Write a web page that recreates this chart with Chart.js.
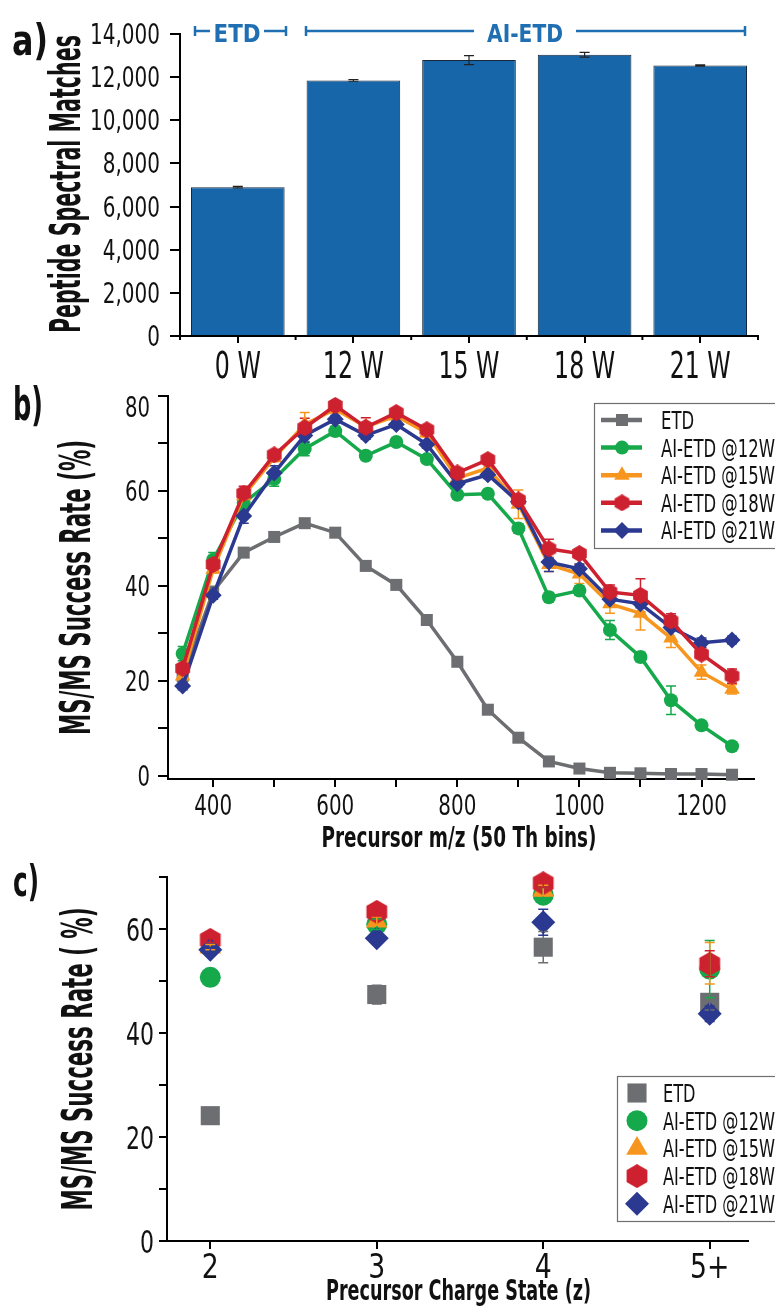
<!DOCTYPE html>
<html><head><meta charset="utf-8">
<script src="https://cdn.jsdelivr.net/npm/chart.js@4.4.1/dist/chart.umd.min.js"></script>
<style>
html,body{margin:0;padding:0;background:#fff;}
#wrap{position:relative;width:775px;height:1309px;overflow:hidden;background:#fff;}
canvas{position:absolute;left:0;}
</style></head><body>
<div id="wrap">
<canvas id="ca" width="775" height="400" style="top:0px"></canvas>
<canvas id="cb" width="775" height="500" style="top:360px"></canvas>
<canvas id="cc" width="775" height="459" style="top:850px"></canvas>
</div>
<script>
// ---------- Panel a data ----------
const powerLabels = ['0 W', '12 W', '15 W', '18 W', '21 W'];
const psmValues = [6900, 11850, 12790, 13040, 12540];
const psmErrors = [40, 40, 210, 110, 30];
const psmTicks = [0, 2000, 4000, 6000, 8000, 10000, 12000, 14000];

// ---------- Panel b data ----------
const mzBins = [350, 400, 450, 500, 550, 600, 650, 700, 750, 800, 850, 900, 950, 1000, 1050, 1100, 1150, 1200, 1250];
const mzTickLabels = [400, 600, 800, 1000, 1200];
const rateETD = [21, 38.8, 47.0, 50.3, 53.2, 51.2, 44.2, 40.2, 32.8, 24.0, 13.9, 8.0, 3.0, 1.5, 0.6, 0.5, 0.35, 0.35, 0.2];
const rate12W = [25.7, 45.5, 57.5, 62.5, 68.9, 72.6, 67.4, 70.3, 66.7, 59.2, 59.4, 52.1, 37.6, 39.0, 30.7, 25.0, 15.9, 10.6, 6.2];
const rate15W = [21.0, 43.5, 59.0, 67.0, 74.0, 77.2, 73.5, 75.8, 72.2, 62.7, 64.8, 57.2, 44.5, 42.5, 36.2, 34.2, 29.0, 21.8, 18.2];
const rate18W = [22.6, 44.5, 59.5, 67.6, 73.3, 78.0, 73.4, 76.5, 72.9, 63.8, 66.6, 58.1, 47.8, 46.8, 38.7, 38.0, 32.6, 25.6, 21.0];
const rate21W = [18.9, 38.0, 54.7, 63.8, 71.7, 75.1, 71.7, 74.0, 69.8, 61.5, 63.4, 57.7, 45.0, 43.6, 37.2, 36.2, 31.2, 28.0, 28.6];
const errETD = [0.3, 0.3, 0.3, 0.3, 0.3, 0.3, 0.3, 0.3, 0.3, 0.3, 0.3, 0.3, 0.3, 0.3, 0.3, 0.3, 0.3, 0.3, 0.3];
const err12W = [1.5, 1.5, 1.2, 1.5, 1.5, 1, 0.8, 0.8, 0.8, 0.8, 0.8, 1, 1, 1, 2, 1, 3, 0.8, 0.8];
const err15W = [0.8, 0.8, 1, 0.8, 2.5, 0.8, 0.8, 0.8, 0.8, 0.8, 0.8, 3, 1.5, 2, 2, 3.5, 2, 1.5, 1];
const err18W = [0.8, 0.8, 1.5, 0.8, 2, 0.8, 2, 0.8, 0.8, 0.8, 0.8, 0.8, 2, 0.8, 1.5, 3.5, 1.5, 0.8, 1.5];
const err21W = [0.8, 0.8, 1.5, 1.5, 1.5, 0.8, 0.8, 0.8, 0.8, 0.8, 0.8, 0.8, 2, 1, 0.8, 0.8, 2.5, 1, 0.8];

// ---------- Panel c data ----------
const chargeStates = [2, 3, 4, 5];
const chargeLabels = ['2', '3', '4', '5+'];
const zETD = [24.1, 47.4, 56.5, 45.9];
const z12W = [50.7, 60.9, 66.5, 52.3];
const z15W = [56.5, 61.5, 67.4, 53.4];
const z18W = [57.9, 63.3, 68.8, 53.3];
const z21W = [56.0, 58.2, 61.3, 43.7];
const zErrETD = [0.3, 1.8, 3.0, 1.5];
const zErr12W = [0.5, 1.0, 1.5, 5.5];
const zErr15W = [0.5, 0.8, 1.0, 4.0];
const zErr18W = [0.5, 0.8, 0.8, 2.5];
const zErr21W = [0.5, 0.8, 2.5, 1.5];

const seriesNames = ['ETD', 'AI-ETD @12W', 'AI-ETD @15W', 'AI-ETD @18W', 'AI-ETD @21W'];

// ---------- styling ----------
const FF = "'Liberation Sans Narrow','DejaVu Sans Condensed','Arial Narrow','Liberation Sans',sans-serif";
const C_BAR = '#1766a9', C_BRACKET = '#1f6fb2';
const C_GRAY = '#6d6e71', C_GREEN = '#16a94b', C_ORANGE = '#f7961f', C_RED = '#cd2130', C_BLUE = '#2b3991';
const INK = '#111';

Chart.defaults.font.family = FF;
Chart.defaults.color = INK;
Chart.defaults.animation = false;

function hexCanvas(d, color) {
  const c = document.createElement('canvas');
  c.width = d; c.height = d;
  const g = c.getContext('2d');
  g.fillStyle = color;
  g.beginPath();
  const r = d / 2;
  for (let i = 0; i < 6; i++) {
    const a = -Math.PI / 2 + i * Math.PI / 3;
    const px = r + r * Math.cos(a), py = r + r * Math.sin(a);
    if (i === 0) g.moveTo(px, py); else g.lineTo(px, py);
  }
  g.closePath();
  g.fill();
  return c;
}

function drawText(ctx, txt, x, y, o) {
  ctx.save();
  ctx.font = o.font;
  ctx.fillStyle = o.color || INK;
  ctx.textBaseline = o.baseline || 'alphabetic';
  ctx.translate(x, y);
  if (o.rotate) ctx.rotate(o.rotate);
  const m = ctx.measureText(txt).width;
  const sx = o.width ? o.width / m : (o.scale || 1);
  ctx.scale(sx, 1);
  ctx.textAlign = o.align || 'center';
  ctx.fillText(txt, 0, 0);
  ctx.restore();
}

function drawMarker(ctx, style, radius, x, y, color) {
  ctx.save();
  ctx.fillStyle = color; ctx.strokeStyle = color;
  if (Chart.helpers && Chart.helpers.drawPoint) {
    Chart.helpers.drawPoint(ctx, {pointStyle: style, radius: radius, rotation: 0, borderWidth: 0}, x, y);
  } else if (style instanceof HTMLCanvasElement) {
    ctx.drawImage(style, x - style.width / 2, y - style.height / 2);
  }
  ctx.restore();
}

// tick labels drawn from the library's own scale ticks, in a condensed face
function tickText(id, axes) {
  return {
    id: id,
    afterDraw(chart) {
      const ctx = chart.ctx;
      Object.keys(axes).forEach(key => {
        const o = axes[key], s = chart.scales[key];
        const font = o.size + 'px ' + FF;
        ctx.save();
        ctx.font = font;
        const sx = o.refWidth / ctx.measureText(o.ref).width;
        ctx.restore();
        s.ticks.forEach((t, i) => {
          const lab = t.label;
          if (lab === '' || lab === null || lab === undefined) return;
          const p = s.getPixelForTick(i);
          if (key === 'x') {
            drawText(ctx, String(lab), p, o.baseline, {font: font, scale: sx, align: 'center'});
          } else {
            let b = p + o.h / 2;
            if (o.clampTop) b = Math.max(b, s.top + o.h + 1);
            drawText(ctx, String(lab), o.right, b, {font: font, scale: sx, align: 'right'});
          }
        });
      });
    }
  };
}

const errorBars = {
  id: 'errorBars',
  beforeDatasetsDraw(chart, args, opts) { if (opts.behind) drawErr(chart, opts); },
  afterDatasetsDraw(chart, args, opts) { if (!opts.behind) drawErr(chart, opts); }
};
function drawErr(chart, opts) {
  const ctx = chart.ctx, ys = chart.scales.y;
  chart.data.datasets.forEach((ds, di) => {
    if (!ds.errors) return;
    const meta = chart.getDatasetMeta(di);
    ctx.save();
    ctx.strokeStyle = opts.color || ds.borderColor;
    ctx.lineWidth = opts.width || 1.5;
    meta.data.forEach((el, i) => {
      const e = ds.errors[i];
      if (!e) return;
      const raw = ds.data[i];
      const v = typeof raw === 'object' ? raw.y : raw;
      const x = el.x;
      const y1 = ys.getPixelForValue(v + e), y2 = ys.getPixelForValue(v - e);
      const c = opts.cap || 5;
      ctx.beginPath();
      ctx.moveTo(x, y1); ctx.lineTo(x, y2);
      ctx.moveTo(x - c, y1); ctx.lineTo(x + c, y1);
      ctx.moveTo(x - c, y2); ctx.lineTo(x + c, y2);
      ctx.stroke();
    });
    ctx.restore();
  });
}

function legendPlugin(id, box, rows, markerX, textX, textW, withLine, offsetTop) {
  return {
    id: id,
    afterDraw(chart) {
      const ctx = chart.ctx;
      const font = '25px ' + FF;
      ctx.save();
      ctx.strokeStyle = '#6f6f6f'; ctx.lineWidth = 1.2;
      ctx.strokeRect(box[0] + 0.5, box[1] - offsetTop + 0.5, box[2] - box[0], box[3] - box[1]);
      ctx.font = font;
      const sc = textW / ctx.measureText('AI-ETD @12W').width;
      chart.data.datasets.forEach((ds, i) => {
        const y = rows[0] + rows[1] * i - offsetTop;
        if (withLine) {
          ctx.strokeStyle = ds.borderColor; ctx.lineWidth = 4.5;
          ctx.beginPath(); ctx.moveTo(markerX - 21, y); ctx.lineTo(markerX + 20, y); ctx.stroke();
        }
        drawMarker(ctx, ds.pointStyle, ds.pointRadius, markerX, y, ds.pointBackgroundColor);
        drawText(ctx, ds.label, textX, y + 9, {font: font, align: 'left', scale: sc});
      });
      ctx.restore();
    }
  };
}

// ================= Panel a =================
const annotA = {
  id: 'annotA',
  afterDraw(chart) {
    const ctx = chart.ctx;
    drawText(ctx, 'a)', 12, 55, {font: 'bold 42px ' + FF, align: 'left', width: 36});
    drawText(ctx, 'Peptide Spectral Matches', 80, 184, {font: '600 43px ' + FF, width: 298, rotate: -Math.PI / 2});
    ctx.save();
    ctx.strokeStyle = C_BRACKET; ctx.lineWidth = 2.5;
    ctx.beginPath();
    ctx.moveTo(195, 31); ctx.lineTo(210, 31); ctx.moveTo(264, 31); ctx.lineTo(286, 31);
    ctx.moveTo(195, 26); ctx.lineTo(195, 36); ctx.moveTo(286, 26); ctx.lineTo(286, 36);
    ctx.moveTo(306, 31); ctx.lineTo(474, 31); ctx.moveTo(576, 31); ctx.lineTo(745, 31);
    ctx.moveTo(306, 26); ctx.lineTo(306, 36); ctx.moveTo(745, 26); ctx.lineTo(745, 36);
    ctx.stroke();
    ctx.restore();
    drawText(ctx, 'ETD', 237, 42, {font: 'bold 24px ' + FF, width: 47, color: C_BRACKET});
    drawText(ctx, 'AI-ETD', 525, 42, {font: 'bold 24px ' + FF, width: 76, color: C_BRACKET});
    const xs = chart.scales.x;
    ctx.save();
    ctx.strokeStyle = '#000'; ctx.lineWidth = 2;
    ctx.beginPath();
    for (let i = 0; i <= powerLabels.length; i++) {
      const x = xs.left + i * (xs.right - xs.left) / powerLabels.length;
      ctx.moveTo(x, xs.top); ctx.lineTo(x, xs.top + 4);
    }
    ctx.stroke();
    ctx.restore();
  }
};

new Chart(document.getElementById('ca'), {
  type: 'bar',
  data: {
    labels: powerLabels,
    datasets: [{
      data: psmValues, errors: psmErrors,
      backgroundColor: C_BAR, borderColor: '#16273a', borderWidth: 1,
      categoryPercentage: 1, barPercentage: 0.81
    }]
  },
  options: {
    responsive: false, animation: false, devicePixelRatio: 1,
    layout: {padding: {top: 34, right: 17, left: 0, bottom: 0}},
    plugins: {legend: {display: false}, tooltip: {enabled: false},
      errorBars: {behind: false, color: '#222', width: 1.2, cap: 5}},
    scales: {
      x: {
        offset: true, afterFit(s) { s.height = 64; },
        border: {color: '#000', width: 2},
        grid: {offset: false, drawOnChartArea: false, tickLength: 7, color: '#000', lineWidth: 2},
        ticks: {display: false, autoSkip: false}
      },
      y: {
        min: psmTicks[0], max: psmTicks[psmTicks.length - 1],
        afterFit(s) { s.width = 180; },
        afterBuildTicks(s) { s.ticks = psmTicks.map(v => ({value: v})); },
        border: {color: '#000', width: 2},
        grid: {drawOnChartArea: false, tickLength: 10, color: '#000', lineWidth: 2},
        ticks: {display: false, callback: v => Number(v).toLocaleString('en-US')}
      }
    }
  },
  plugins: [errorBars, annotA, tickText('tA', {
    x: {size: 38, ref: '0 W', refWidth: 46, baseline: 378},
    y: {size: 28, ref: '10,000', refWidth: 70, right: 160, h: 20}
  })]
});

// ================= Panel b =================
const OFF_B = 360;
const hexB = hexCanvas(17, C_RED);
function lineDs(label, vals, errs, color, style, radius, order) {
  return {
    label: label, data: mzBins.map((x, i) => ({x: x, y: vals[i]})), errors: errs,
    borderColor: color, backgroundColor: color, borderWidth: 3.5, tension: 0,
    pointStyle: style, pointRadius: radius, pointBackgroundColor: color, pointBorderWidth: 0,
    order: order, clip: false
  };
}
const annotB = {
  id: 'annotB',
  afterDraw(chart) {
    const ctx = chart.ctx;
    drawText(ctx, 'b)', 13, 420 - OFF_B, {font: 'bold 46px ' + FF, align: 'left', width: 30});
    drawText(ctx, 'MS/MS Success Rate (%)', 90, 587.5 - OFF_B, {font: '600 43px ' + FF, width: 295, rotate: -Math.PI / 2});
    drawText(ctx, 'Precursor m/z (50 Th bins)', 459, 847 - OFF_B, {font: '600 28px ' + FF, width: 275});
  }
};
new Chart(document.getElementById('cb'), {
  type: 'line',
  data: {
    datasets: [
      lineDs(seriesNames[0], rateETD, errETD, C_GRAY, 'rect', 8.5, 5),
      lineDs(seriesNames[1], rate12W, err12W, C_GREEN, 'circle', 7, 4),
      lineDs(seriesNames[2], rate15W, err15W, C_ORANGE, 'triangle', 9, 3),
      lineDs(seriesNames[3], rate18W, err18W, C_RED, hexB, 8, 1),
      lineDs(seriesNames[4], rate21W, err21W, C_BLUE, 'rectRot', 8.5, 2)
    ]
  },
  options: {
    responsive: false, animation: false, devicePixelRatio: 1,
    layout: {padding: {top: 36, right: 21, left: 0, bottom: 0}},
    plugins: {legend: {display: false}, tooltip: {enabled: false},
      errorBars: {behind: true, width: 1.5, cap: 5}},
    scales: {
      x: {
        type: 'linear', min: 326, max: 1286,
        afterFit(s) { s.height = 81; },
        border: {color: '#000', width: 2},
        grid: {drawOnChartArea: false, tickLength: 8, color: '#000', lineWidth: 2},
        ticks: {display: false, stepSize: 100, includeBounds: false, autoSkip: false,
          callback: v => mzTickLabels.includes(v) ? String(v) : ''}
      },
      y: {
        min: -0.7, max: 80,
        afterFit(s) { s.width = 168; },
        border: {color: '#000', width: 2},
        grid: {drawOnChartArea: false, tickLength: 10, color: '#000', lineWidth: 2},
        ticks: {display: false, stepSize: 10, includeBounds: false,
          callback: v => (v % 20 === 0 ? String(v) : '')}
      }
    }
  },
  plugins: [errorBars, annotB, tickText('tB', {
      x: {size: 28, ref: '400', refWidth: 38, baseline: 815 - OFF_B},
      y: {size: 28, ref: '60', refWidth: 25, right: 150, h: 20, clampTop: true}
    }),
    legendPlugin('legB', [594, 403, 776, 548], [420, 27.6], 622, 661, 114, true, OFF_B)]
});

// ================= Panel c =================
const OFF_C = 850;
const hexC = hexCanvas(24, C_RED);
function dotDs(label, vals, errs, color, style, radius, order) {
  return {
    label: label, data: chargeStates.map((x, i) => ({x: x, y: vals[i]})), errors: errs,
    borderColor: color, backgroundColor: color, showLine: false,
    pointStyle: style, pointRadius: radius, pointBackgroundColor: color, pointBorderWidth: 0,
    order: order, clip: false
  };
}
const annotC = {
  id: 'annotC',
  afterDraw(chart) {
    const ctx = chart.ctx;
    drawText(ctx, 'c)', 13, 896 - OFF_C, {font: 'bold 42px ' + FF, align: 'left', width: 26});
    drawText(ctx, 'MS/MS Success Rate ( %)', 92, 1059 - OFF_C, {font: '600 43px ' + FF, width: 303, rotate: -Math.PI / 2});
    drawText(ctx, 'Precursor Charge State (z)', 458.5, 1300 - OFF_C, {font: '600 28px ' + FF, width: 265});
  }
};
new Chart(document.getElementById('cc'), {
  type: 'scatter',
  data: {
    datasets: [
      dotDs(seriesNames[0], zETD, zErrETD, C_GRAY, 'rect', 13.5, 5),
      dotDs(seriesNames[1], z12W, zErr12W, C_GREEN, 'circle', 10.5, 4),
      dotDs(seriesNames[2], z15W, zErr15W, C_ORANGE, 'triangle', 12.5, 3),
      dotDs(seriesNames[3], z18W, zErr18W, C_RED, hexC, 11, 2),
      dotDs(seriesNames[4], z21W, zErr21W, C_BLUE, 'rectRot', 12, 1)
    ]
  },
  options: {
    responsive: false, animation: false, devicePixelRatio: 1,
    layout: {padding: {top: 27, right: 27, left: 0, bottom: 0}},
    plugins: {legend: {display: false}, tooltip: {enabled: false},
      errorBars: {behind: false, width: 1.5, cap: 5}},
    scales: {
      x: {
        type: 'linear', min: 1.74, max: 5.23,
        afterFit(s) { s.height = 68; },
        border: {color: '#000', width: 2},
        grid: {drawOnChartArea: false, tickLength: 8, color: '#000', lineWidth: 2},
        ticks: {display: false, stepSize: 1, includeBounds: false, autoSkip: false,
          callback: v => { const k = chargeStates.indexOf(v); return k >= 0 ? chargeLabels[k] : ''; }}
      },
      y: {
        min: 0, max: 70,
        afterFit(s) { s.width = 167; },
        border: {color: '#000', width: 2},
        grid: {drawOnChartArea: false, tickLength: 8, color: '#000', lineWidth: 2},
        ticks: {display: false, stepSize: 10,
          callback: v => (v % 20 === 0 ? String(v) : '')}
      }
    }
  },
  plugins: [errorBars, annotC, tickText('tC', {
      x: {size: 34, ref: '3', refWidth: 17, baseline: 1278 - OFF_C},
      y: {size: 32, ref: '60', refWidth: 28, right: 154, h: 23}
    }),
    legendPlugin('legC', [617, 1076, 776, 1221], [1093, 27.7], 637, 663, 112, false, OFF_C)]
});
</script>
</body></html>
